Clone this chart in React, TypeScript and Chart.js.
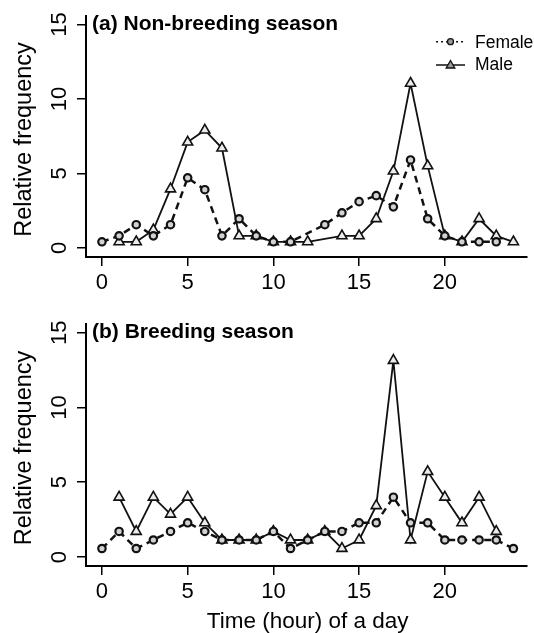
import React, { useEffect, useRef } from "react";
import { Chart, registerables } from "chart.js";

Chart.register(...registerables);

// ---------------- data ----------------
const hourTicks = [0, 5, 10, 15, 20];
const freqTicks = [0, 5, 10, 15];

const seriesNames = ["Female", "Male"];
const panelTitles = ["(a) Non-breeding season", "(b) Breeding season"];
const xAxisTitle = "Time (hour) of a day";
const yAxisTitle = "Relative frequency";

const nonBreedFemaleHours = [0, 1, 2, 3, 4, 5, 6, 7, 8, 9, 10, 11, 13, 14, 15, 16, 17, 18, 19, 20, 21, 22, 23];
const nonBreedFemaleValues = [0.4, 0.8, 1.55, 0.8, 1.55, 4.7, 3.9, 0.8, 1.95, 0.8, 0.4, 0.4, 1.55, 2.35, 3.1, 3.5, 2.75, 5.9, 1.95, 0.8, 0.4, 0.4, 0.4];

const nonBreedMaleHours = [1, 2, 3, 4, 5, 6, 7, 8, 9, 10, 11, 12, 14, 15, 16, 17, 18, 19, 20, 21, 22, 23, 24];
const nonBreedMaleValues = [0.4, 0.4, 1.2, 3.95, 7.1, 7.9, 6.7, 0.8, 0.8, 0.4, 0.4, 0.4, 0.8, 0.8, 1.95, 5.15, 11.05, 5.5, 0.8, 0.4, 1.95, 0.8, 0.4];

const breedFemaleHours = [0, 1, 2, 3, 4, 5, 6, 7, 8, 9, 10, 11, 12, 13, 14, 15, 16, 17, 18, 19, 20, 21, 22, 23, 24];
const breedFemaleValues = [0.57, 1.71, 0.57, 1.14, 1.71, 2.29, 1.71, 1.14, 1.14, 1.14, 1.71, 0.57, 1.14, 1.71, 1.71, 2.29, 2.29, 4.0, 2.29, 2.29, 1.14, 1.14, 1.14, 1.14, 0.57];

const breedMaleHours = [1, 2, 3, 4, 5, 6, 7, 8, 9, 10, 11, 12, 13, 14, 15, 16, 17, 18, 19, 20, 21, 22, 23];
const breedMaleValues = [4.0, 1.71, 4.0, 2.86, 4.0, 2.29, 1.14, 1.14, 1.14, 1.71, 1.14, 1.14, 1.71, 0.57, 1.14, 3.43, 13.14, 1.14, 5.71, 4.0, 2.29, 4.0, 1.71];

// ---------------- styling ----------------
const FONT = "'Liberation Sans', Arial, Helvetica, sans-serif";
const INK = "#111";
const CIRCLE_FILL = "#d2d2d2";
const TRI_FILL = "#ececec";

function drawTriangle(ctx: CanvasRenderingContext2D, x: number, y: number, r: number) {
  let rad = 0;
  const step = (2 * Math.PI) / 3;
  ctx.beginPath();
  ctx.moveTo(x + Math.sin(rad) * r, y - Math.cos(rad) * r);
  rad += step;
  ctx.lineTo(x + Math.sin(rad) * r, y - Math.cos(rad) * r);
  rad += step;
  ctx.lineTo(x + Math.sin(rad) * r, y - Math.cos(rad) * r);
  ctx.closePath();
}

function makeOverlay(panelTitle: string, showLegend: boolean, showXTitle: boolean) {
  return {
    id: "rOverlay",
    afterDraw(chart: any) {
      const ctx: CanvasRenderingContext2D = chart.ctx;
      const area = chart.chartArea;
      const xs = chart.scales.x;
      const ys = chart.scales.y;
      ctx.save();
      ctx.fillStyle = "#000";
      ctx.textBaseline = "alphabetic";

      // x tick labels
      ctx.font = `22px ${FONT}`;
      ctx.textAlign = "center";
      hourTicks.forEach((v) => ctx.fillText(String(v), xs.getPixelForValue(v), area.bottom + 32));

      // y tick labels (rotated, R style)
      freqTicks.forEach((v) => {
        ctx.save();
        ctx.translate(area.left - 20.5, ys.getPixelForValue(v));
        ctx.rotate(-Math.PI / 2);
        ctx.fillText(String(v), 0, 0);
        ctx.restore();
      });

      // y title
      ctx.font = `23.5px ${FONT}`;
      ctx.save();
      ctx.translate(area.left - 55.5, (area.top + area.bottom) / 2 + 3);
      ctx.rotate(-Math.PI / 2);
      ctx.fillText(yAxisTitle, 0, 0);
      ctx.restore();

      // x title
      if (showXTitle) {
        ctx.font = `22.5px ${FONT}`;
        const cx = (xs.getPixelForValue(0) + xs.getPixelForValue(24)) / 2;
        ctx.fillText(xAxisTitle, cx, area.bottom + 61.5);
      }

      // panel title
      ctx.font = `bold 21px ${FONT}`;
      ctx.textAlign = "left";
      ctx.fillText(panelTitle, area.left + 6, ys.getPixelForValue(15) + 5.5);

      // legend
      if (showLegend) {
        const rows = [41.7, 65];
        const x1 = 436;
        const x2 = 465;
        const mx = 450.5;
        // Female
        ctx.strokeStyle = INK;
        ctx.lineWidth = 1.5;
        ctx.setLineDash([2, 3]);
        ctx.beginPath();
        ctx.moveTo(x1, rows[0]);
        ctx.lineTo(x2, rows[0]);
        ctx.stroke();
        ctx.setLineDash([]);
        ctx.beginPath();
        ctx.arc(mx, rows[0], 3, 0, Math.PI * 2);
        ctx.fillStyle = "#999";
        ctx.fill();
        ctx.lineWidth = 1.3;
        ctx.stroke();
        // Male
        ctx.lineWidth = 1.5;
        ctx.beginPath();
        ctx.moveTo(x1, rows[1]);
        ctx.lineTo(x2, rows[1]);
        ctx.stroke();
        drawTriangle(ctx, mx, rows[1] + 0.5, 5);
        ctx.fillStyle = "#999";
        ctx.fill();
        ctx.lineWidth = 1.3;
        ctx.stroke();

        ctx.fillStyle = "#000";
        ctx.font = `17.5px ${FONT}`;
        ctx.textAlign = "left";
        ctx.fillText(seriesNames[0], 475, rows[0] + 5.8);
        ctx.fillText(seriesNames[1], 475, rows[1] + 5.4);
      }
      ctx.restore();
    },
  };
}

type PanelProps = {
  femaleHours: number[];
  femaleValues: number[];
  maleHours: number[];
  maleValues: number[];
  title: string;
  yMin: number;
  yMax: number;
  height: number;
  top: number;
  padTop: number;
  padBottom: number;
  showLegend: boolean;
  showXTitle: boolean;
};

function Panel(p: PanelProps) {
  const ref = useRef<HTMLCanvasElement>(null);
  useEffect(() => {
    const canvas = ref.current;
    if (!canvas) return;
    const toPts = (h: number[], v: number[]) => h.map((x, i) => ({ x, y: v[i] }));
    const axisCommon = {
      type: "linear" as const,
      grid: { drawOnChartArea: false, drawTicks: true, tickLength: 9, color: "#000", lineWidth: 1.5 },
      border: { display: true, color: "#000", width: 2 },
      ticks: { display: false },
    };
    const chart = new Chart(canvas, {
      type: "line",
      data: {
        datasets: [
          {
            label: seriesNames[0],
            data: toPts(p.femaleHours, p.femaleValues),
            borderColor: INK,
            borderWidth: 2.5,
            borderDash: [7, 5],
            pointStyle: "circle",
            pointRadius: 3.7,
            pointBorderWidth: 2.2,
            pointBackgroundColor: CIRCLE_FILL,
            pointBorderColor: INK,
            tension: 0,
            clip: false,
          } as any,
          {
            label: seriesNames[1],
            data: toPts(p.maleHours, p.maleValues),
            borderColor: INK,
            borderWidth: 1.8,
            pointStyle: "triangle",
            pointRadius: 5.8,
            pointBorderWidth: 1.6,
            pointBackgroundColor: TRI_FILL,
            pointBorderColor: INK,
            tension: 0,
            clip: false,
          } as any,
        ],
      },
      options: {
        animation: false,
        responsive: false,
        maintainAspectRatio: false,
        layout: { padding: { left: 77, right: 0, top: p.padTop, bottom: p.padBottom } },
        plugins: { legend: { display: false }, tooltip: { enabled: false }, title: { display: false } },
        scales: {
          x: {
            ...axisCommon,
            min: -0.93,
            max: 24.77,
            afterBuildTicks: (axis: any) => {
              axis.ticks = hourTicks.map((value) => ({ value }));
            },
          },
          y: {
            ...axisCommon,
            min: p.yMin,
            max: p.yMax,
            afterBuildTicks: (axis: any) => {
              axis.ticks = freqTicks.map((value) => ({ value }));
            },
          },
        } as any,
      },
      plugins: [makeOverlay(p.title, p.showLegend, p.showXTitle)],
    });
    return () => chart.destroy();
  }, []);
  return (
    <canvas
      ref={ref}
      width={534}
      height={p.height}
      style={{ position: "absolute", left: 0, top: p.top, width: 534, height: p.height, display: "block" }}
    />
  );
}

export default function App() {
  return (
    <div style={{ position: "absolute", left: 0, top: 0, width: 534, height: 633, background: "#fff", overflow: "hidden" }}>
      <Panel
        femaleHours={nonBreedFemaleHours}
        femaleValues={nonBreedFemaleValues}
        maleHours={nonBreedMaleHours}
        maleValues={nonBreedMaleValues}
        title={panelTitles[0]}
        yMin={-0.62}
        yMax={15.57}
        height={300}
        top={0}
        padTop={16}
        padBottom={34}
        showLegend={true}
        showXTitle={false}
      />
      <Panel
        femaleHours={breedFemaleHours}
        femaleValues={breedFemaleValues}
        maleHours={breedMaleHours}
        maleValues={breedMaleValues}
        title={panelTitles[1]}
        yMin={-0.6}
        yMax={15.58}
        height={333}
        top={300}
        padTop={24}
        padBottom={58}
        showLegend={false}
        showXTitle={true}
      />
    </div>
  );
}
